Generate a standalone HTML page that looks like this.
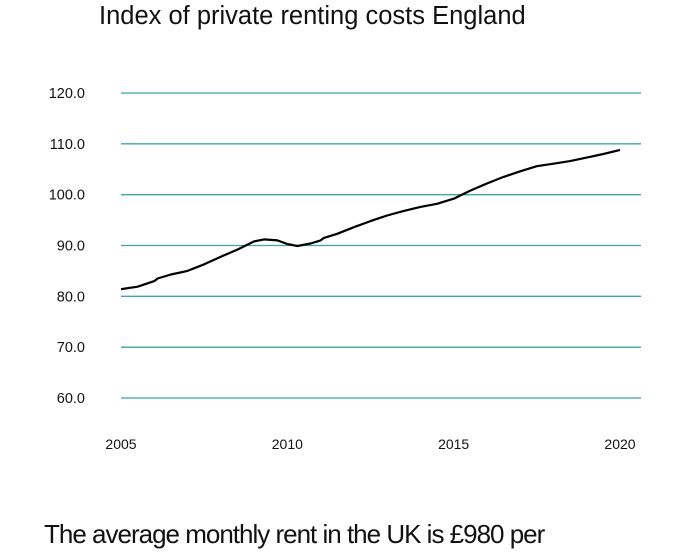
<!DOCTYPE html>
<html><head><meta charset="utf-8"><style>
body{margin:0;background:#fff;width:688px;height:550px;overflow:hidden;font-family:"Liberation Sans",sans-serif}
</style></head><body>
<svg width="688" height="550">
<text x="99" y="24" font-size="25.5" fill="#111">Index of private renting costs England</text>
<g id="grid"></g><g id="yt"></g><g id="xt"></g>
<path id="line" fill="none" stroke="#000" stroke-width="2.2" stroke-linejoin="round"/>
<text x="44" y="543" font-size="26" fill="#111" letter-spacing="-1">The average monthly rent in the UK is £980 per</text>
</svg>
<script>
const yTicks=[60,70,80,90,100,110,120];
const xTicks=[2005,2010,2015,2020];
const years=[2005,2005.5,2006,2006.1,2006.5,2007,2007.5,2008,2008.5,2009,2009.3,2009.7,2010,2010.3,2010.7,2011,2011.1,2011.5,2012,2012.5,2013,2013.5,2014,2014.5,2015,2015.5,2016,2016.5,2017,2017.5,2018,2018.5,2019,2019.5,2020];
const values=[81.4,81.9,83.0,83.5,84.3,85.0,86.3,87.8,89.2,90.8,91.2,91.0,90.3,89.9,90.4,91.0,91.5,92.3,93.6,94.8,95.9,96.8,97.6,98.2,99.2,100.8,102.2,103.5,104.6,105.6,106.1,106.6,107.3,108.0,108.8];
const ns="http://www.w3.org/2000/svg";
const x=v=>121+(v-2005)*(620-121)/15;
const y=v=>398-(v-60)*(398-93)/60;
const grid=document.getElementById('grid'),yt=document.getElementById('yt'),xt=document.getElementById('xt');
yTicks.forEach(t=>{
const l=document.createElementNS(ns,'line');


l.setAttribute('x1',121);l.setAttribute('x2',641);l.setAttribute('y1',y(t));l.setAttribute('y2',y(t));
l.setAttribute('stroke','#3aa8a0');l.setAttribute('stroke-width','1.3');grid.appendChild(l);
const tx=document.createElementNS(ns,'text');


tx.setAttribute('x',85);tx.setAttribute('y',y(t)+5);tx.setAttribute('text-anchor','end');tx.setAttribute('font-size','14.5');tx.setAttribute('fill','#111');
tx.textContent=t.toFixed(1);yt.appendChild(tx);});
xTicks.forEach(t=>{
const tx=document.createElementNS(ns,'text');


tx.setAttribute('x',x(t));tx.setAttribute('y',449);tx.setAttribute('text-anchor','middle');tx.setAttribute('font-size','14');tx.setAttribute('fill','#111');
tx.textContent=t;xt.appendChild(tx);});
document.getElementById('line').setAttribute('d',years.map((v,i)=>(i?'L':'M')+x(v).toFixed(1)+','+y(values[i]).toFixed(1)).join(''));
</script>
</body></html>
